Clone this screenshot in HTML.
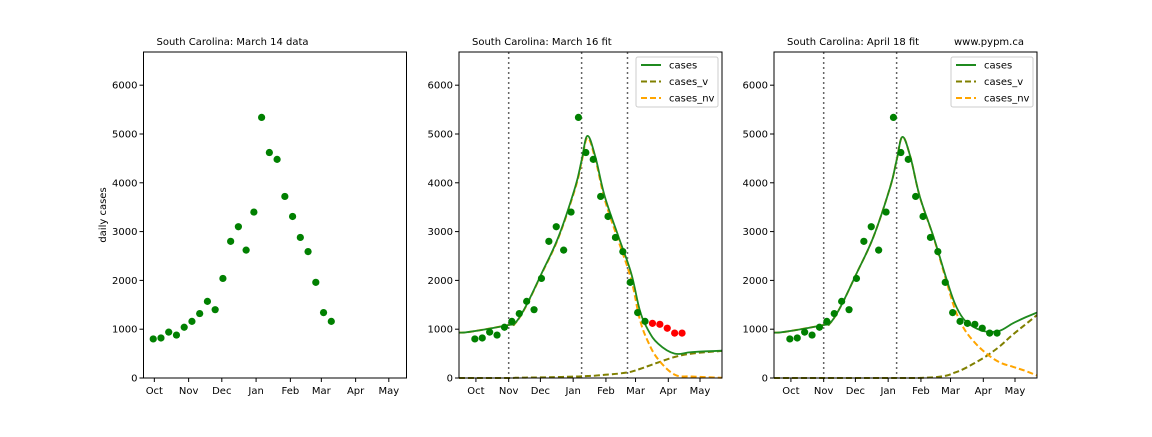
<!DOCTYPE html>
<html><head><meta charset="utf-8"><style>
body{margin:0;background:#fff;font-family:"Liberation Sans","DejaVu Sans",sans-serif}
svg text{font-family:"DejaVu Sans","Liberation Sans",sans-serif;font-size:10px;fill:#000}
</style></head><body>
<svg id="c" width="1152" height="432"></svg>
<script>
const monthLabels=["Oct","Nov","Dec","Jan","Feb","Mar","Apr","May"];
const monthDays=[0,31,61,92,123,151,182,212];
const yTicks=[0,1000,2000,3000,4000,5000,6000];
const obsValues=[800,820,940,880,1040,1160,1320,1570,1400,2040,2800,3100,2620,3400,5340,4620,4480,3720,3310,2880,2590,1960,1340,1160];
const newValues=[1120,1100,1020,920,920];
const fit2Days=[-16,-5,31,37,47,62,78,94,100,105.5,113,122,135,147,155,163,172.5,188,204,232.8];
const fit2Cases=[930,948,1085,1120,1460,2140,2890,3920,4460,4960,4530,3710,2890,2140,1390,980,700,500,530,560];
const fit2V=[0,0,0,5,8,12,20,30,35,40,50,65,90,130,185,245,320,430,500,555];
const fit3Days=[-16,-5,31,37,47,62,78,94,100,105.5,113,122,135,147,155,163,172.5,185,197.6,210,222.6,232.8];
const fit3Cases=[930,948,1085,1120,1460,2140,2890,3920,4460,4940,4530,3710,2890,2040,1530,1220,1050,950,970,1120,1250,1340];
const fit3V=[0,0,0,0,0,0,0,0,0,0,0,3,15,50,110,180,290,450,650,890,1110,1290];
const vlines2=[31,100,143.4];
const vlines3=[31,100];
const NS="http://www.w3.org/2000/svg";
const svg=document.getElementById('c');
function mk(t,a,p){const e=document.createElementNS(NS,t);for(const k in a)e.setAttribute(k,a[k]);(p||svg).appendChild(e);return e;}
function smooth(P){
 let d='M'+P[0][0].toFixed(1)+','+P[0][1].toFixed(1);
 for(let i=0;i<P.length-1;i++){
  const p0=P[i-1]||P[i],p1=P[i],p2=P[i+1],p3=P[i+2]||P[i+1];
  const t=0.18;
  const c1=[p1[0]+(p2[0]-p0[0])*t,p1[1]+(p2[1]-p0[1])*t];
  const c2=[p2[0]-(p3[0]-p1[0])*t,p2[1]-(p3[1]-p1[1])*t];
  d+='C'+c1.map(v=>v.toFixed(1))+' '+c2.map(v=>v.toFixed(1))+' '+p2[0].toFixed(1)+','+p2[1].toFixed(1);
 }
 return d;
}
function panel(o){
 const g=mk('g',{});
 
 
 const X=d=>o.x0+(d-o.d0)/(o.d1-o.d0)*(o.x1-o.x0);
 const Y=v=>378-v/6680*(378-52);
 (o.vl||[]).forEach(d=>{const l=mk('line',{x1:X(d),x2:X(d),y1:52,y2:378,stroke:'#666','stroke-width':1.5,'stroke-dasharray':'2,3'},g);
  });
 if(o.days){
  const path=(vals)=>smooth(vals.map((v,i)=>[X(o.days[i]),Y(v)]));
  const nv=o.cases.map((c,i)=>Math.max(0,c-o.v[i]));
  const a=mk('path',{d:path(o.v),fill:'none',stroke:'#808000','stroke-width':2,'stroke-dasharray':'6,3'},g);
  
  const b=mk('path',{d:path(nv),fill:'none',stroke:'#FFA500','stroke-width':2,'stroke-dasharray':'6,3'},g);
  
  const c=mk('path',{d:path(o.cases),fill:'none',stroke:'#1f8a1f','stroke-width':1.8},g);
  
 }
 o.pts.forEach((v,i)=>{const p=mk('circle',{cx:X(-1+7*i),cy:Y(v),r:3.6,fill:o.red&&i>=obsValues.length?'#ff0000':'#008000'},g);
  });
 const f=mk('rect',{x:o.x0,y:52,width:o.x1-o.x0,height:326,fill:'none',stroke:'#000','stroke-width':1},g);
 
 monthDays.forEach((d,i)=>{const x=X(d);mk('line',{x1:x,x2:x,y1:378,y2:382,stroke:'#000'},g);
  const t=mk('text',{x:x,y:394,'text-anchor':'middle'},g);t.textContent=monthLabels[i];
  });
 yTicks.forEach(v=>{const y=Y(v);mk('line',{x1:o.x0-4,x2:o.x0,y1:y,y2:y,stroke:'#000'},g);
  const t=mk('text',{x:o.x0-6,y:y+3.5,'text-anchor':'end'},g);t.textContent=v;
  });
 const tt=mk('text',{x:o.x0+13,y:45},g);tt.textContent=o.title;
 
 if(o.days){
  const lg=mk('g',{},g);
  const lx=o.x1-86;
  mk('rect',{x:lx,y:57,width:82,height:50,rx:2,fill:'#fff',stroke:'#ccc'},lg);
  [['cases','#1f8a1f',''],['cases_v','#808000','6,3'],['cases_nv','#FFA500','6,3']].forEach((e,i)=>{
   const y=65+i*16.5;
   mk('line',{x1:lx+5,x2:lx+25,y1:y,y2:y,stroke:e[1],'stroke-width':2,'stroke-dasharray':e[2]},lg);
   const t=mk('text',{x:lx+33,y:y+3.5},lg);t.textContent=e[0];
   });
 }
}
panel({name:'panel-march14-data',x0:143.5,x1:406.5,d0:-9.8,d1:228,pts:obsValues,title:'South Carolina:  March 14 data'});
panel({name:'panel-march16-fit',x0:459,x1:722,d0:-16,d1:232.8,pts:obsValues.concat(newValues),red:true,vl:vlines2,days:fit2Days,cases:fit2Cases,v:fit2V,title:'South Carolina:  March 16 fit'});
panel({name:'panel-april18-fit',x0:774,x1:1037,d0:-16,d1:232.8,pts:obsValues.concat(newValues),vl:vlines3,days:fit3Days,cases:fit3Cases,v:fit3V,title:'South Carolina:  April 18 fit'});
const w=mk('text',{x:954,y:45});w.textContent='www.pypm.ca';

const yl=mk('text',{x:106,y:215,'text-anchor':'middle',transform:'rotate(-90 106 215)'});yl.textContent='daily cases';

</script>
</body></html>
